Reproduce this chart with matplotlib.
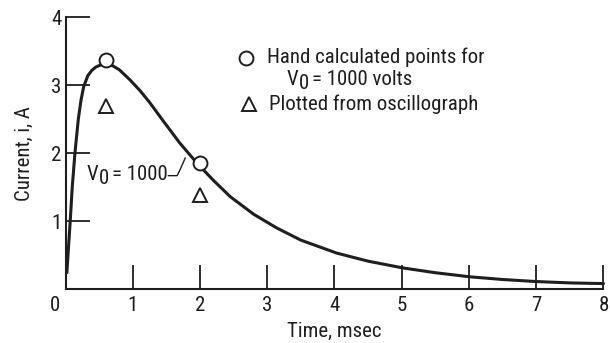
import matplotlib
matplotlib.use('Agg')
import matplotlib.pyplot as plt
from matplotlib.transforms import offset_copy

plt.rcParams['font.family'] = ['Roboto Condensed', 'Liberation Sans', 'DejaVu Sans']

# current trace
t_curve = [0.02, 0.04, 0.07, 0.10, 0.14, 0.19, 0.23, 0.27, 0.33, 0.39, 0.45,
           0.52, 0.60, 0.70, 0.80, 0.96, 1.11, 1.25, 1.45, 1.70, 1.95, 2.20,
           2.45, 2.80, 3.14, 3.50, 4.03, 4.50, 5.02, 5.50, 6.01, 6.50, 7.00,
           7.50, 8.00]
i_curve = [0.24, 0.55, 1.00, 1.50, 2.00, 2.50, 2.78, 2.98, 3.14, 3.22, 3.27,
           3.30, 3.31, 3.29, 3.23, 3.08, 2.92, 2.75, 2.48, 2.15, 1.86, 1.60,
           1.36, 1.10, 0.90, 0.72, 0.53, 0.41, 0.31, 0.24, 0.18, 0.14, 0.11,
           0.09, 0.08]

# hand calculated points (circles) and oscillograph points (triangles)
t_calc = [0.6, 2.0]
i_calc = [3.38, 1.86]
t_osc = [0.6, 2.0]
i_osc = [2.70, 1.39]

x_ticks = [0, 1, 2, 3, 4, 5, 6, 7, 8]
y_ticks = [1, 2, 3, 4]

ink = '#1e1e1e'
fs = 15

fig = plt.figure(figsize=(6.10, 3.43), dpi=100)
ax = fig.add_axes([0.1074, 0.1574, 0.8819, 0.7916])
ax.set_xlim(0, 8)
ax.set_ylim(0, 4)

for s in ['top', 'right']:
    ax.spines[s].set_visible(False)
for s in ['left', 'bottom']:
    ax.spines[s].set_linewidth(1.5)
    ax.spines[s].set_color(ink)

ax.plot(t_curve, i_curve, color=ink, lw=2.2, clip_on=False,
        solid_joinstyle='round', solid_capstyle='round')
ax.plot(t_calc, i_calc, 'o', ms=10, mfc='white', mec=ink, mew=1.4, clip_on=False)
ax.plot(t_osc, i_osc, '^', ms=10, mfc='white', mec=ink, mew=1.4, clip_on=False)

ax.set_xticks(x_ticks)
ax.set_xticklabels([''] + [str(v) for v in x_ticks[1:]])
ax.set_yticks(y_ticks)
ax.set_yticklabels([str(v) for v in y_ticks])
ax.tick_params(direction='in', length=17, width=1.3, color=ink,
               labelsize=fs, labelcolor=ink)
ax.tick_params(axis='x', pad=5)
ax.tick_params(axis='y', pad=3)
ax.text(-0.15, -0.24, '0', fontsize=fs, color=ink, ha='center', va='center')

ax.set_xlabel('Time, msec', fontsize=fs, color=ink, labelpad=5)
ax.set_ylabel('Current, i, A', fontsize=fs, color=ink, labelpad=12)

renderer = fig.canvas.get_renderer()


def v_sub_text(x, y, rest):
    """Draw 'V' with a lowered '0' subscript followed by the rest of the text."""
    t1 = ax.text(x, y, 'V', fontsize=fs, color=ink, ha='left', va='center')
    w1 = t1.get_window_extent(renderer).width
    tr2 = offset_copy(ax.transData, fig=fig, x=w1, y=-4, units='dots')
    t2 = ax.text(x, y, '0', fontsize=fs, color=ink, ha='left', va='center',
                 transform=tr2)
    w2 = t2.get_window_extent(renderer).width
    tr3 = offset_copy(ax.transData, fig=fig, x=w1 + w2 + 3, y=0, units='dots')
    ax.text(x, y, rest, fontsize=fs, color=ink, ha='left', va='center',
            transform=tr3)


# key in the upper right
ax.plot([2.69], [3.41], 'o', ms=10, mfc='white', mec=ink, mew=1.4)
ax.text(2.99, 3.42, 'Hand calculated points for', fontsize=fs, color=ink,
        ha='left', va='center')
v_sub_text(3.29, 3.09, '= 1000 volts')
ax.plot([2.73], [2.72], '^', ms=10, mfc='white', mec=ink, mew=1.4)
ax.text(3.02, 2.72, 'Plotted from oscillograph', fontsize=fs, color=ink,
        ha='left', va='center')

# curve label with leader line
v_sub_text(0.32, 1.68, '= 1000')
ax.plot([1.53, 1.66, 1.70, 1.78], [1.67, 1.67, 1.75, 1.93], color=ink, lw=1.0)

fig.savefig('out.png', dpi=100)
